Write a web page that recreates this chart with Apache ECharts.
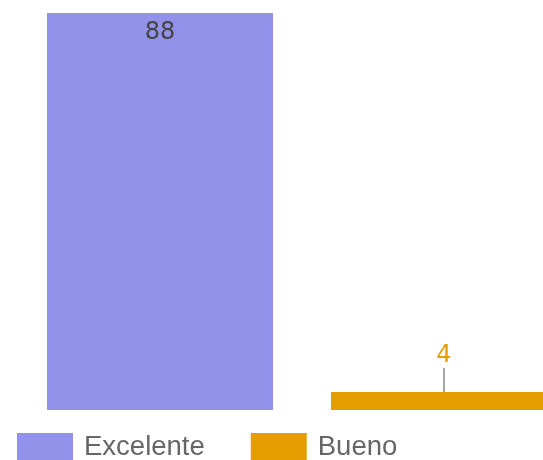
<!DOCTYPE html>
<html>
<head>
<meta charset="utf-8">
<script src="https://cdn.jsdelivr.net/npm/echarts@6/dist/echarts.min.js"></script>
<style>
html,body{margin:0;padding:0;background:#fff;}
#main{width:543px;height:460px;}
</style>
</head>
<body>
<div id="main"></div>
<script>
var categories = ['Excelente', 'Bueno'];
var excelenteValues = [88];
var buenoValues = [4];
var seriesColors = ['#9292EA', '#E49E00'];

var chart = echarts.init(document.getElementById('main'), null, {renderer: 'canvas'});
chart.setOption({
  animation: false,
  color: seriesColors,
  grid: {left: 61, right: 0, top: 13, bottom: 50},
  xAxis: {
    type: 'category',
    data: [''],
    show: false
  },
  yAxis: {
    type: 'value',
    min: 0,
    max: 88,
    show: false
  },
  legend: {
    left: 17,
    top: 433,
    padding: 0,
    icon: 'rect',
    itemWidth: 56,
    itemHeight: 28,
    itemGap: 46,
    textStyle: {fontSize: 27.5, color: '#666', fontFamily: 'Liberation Sans, Arial, sans-serif', padding: [0, 0, 0, 6]},
    data: categories
  },
  series: [
    {
      name: categories[0],
      type: 'bar',
      clip: false,
      barWidth: 226,
      barGap: '25.66%',
      data: excelenteValues,
      label: {
        show: true,
        position: 'insideTop',
        distance: 8,
        fontSize: 24,
        fontFamily: 'DejaVu Sans, sans-serif',
        color: '#444'
      }
    },
    {
      name: categories[1],
      type: 'bar',
      clip: false,
      barWidth: 226,
      barGap: '25.66%',
      data: buenoValues,
      label: {
        show: true,
        position: 'top',
        distance: 5,
        fontSize: 24,
        fontFamily: 'DejaVu Sans, sans-serif',
        color: '#E49E00'
      },
      labelLayout: {dy: -19},
      labelLine: {show: true, lineStyle: {color: '#888', width: 1.5}}
    }
  ]
});
</script>
</body>
</html>
